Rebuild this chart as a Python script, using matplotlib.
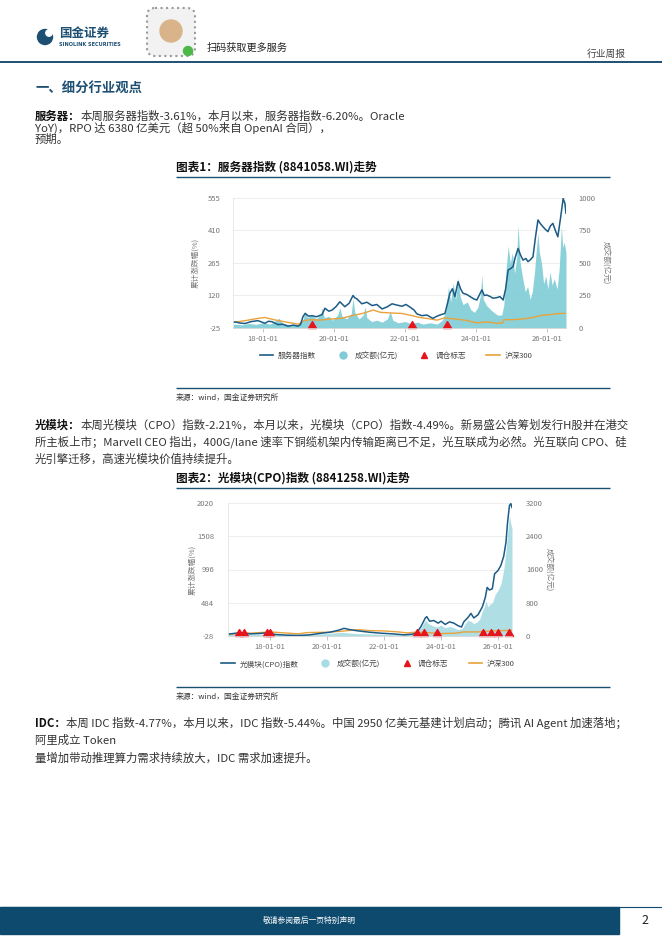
import matplotlib.pyplot as plt
from matplotlib.patches import Rectangle, Circle, FancyBboxPatch
from matplotlib.lines import Line2D
from matplotlib.path import Path

plt.rcParams['font.family'] = ['Noto Sans CJK SC', 'DejaVu Sans']

# ---------------- data ----------------
# 图表1 服务器指数 (decimal year, 累计涨跌幅 %)
t1_idx = [2017.15, 2017.21, 2017.35, 2017.49, 2017.65, 2017.85, 2017.95, 2018.05, 2018.15, 2018.25,
          2018.42, 2018.55, 2018.70, 2018.85, 2018.98, 2019.05, 2019.12, 2019.18, 2019.28, 2019.38,
          2019.50, 2019.66, 2019.74, 2019.85, 2019.94, 2020.05, 2020.16, 2020.30, 2020.42, 2020.53,
          2020.58, 2020.64, 2020.78, 2020.92, 2021.07, 2021.20, 2021.35, 2021.50, 2021.63, 2021.75,
          2021.91, 2022.02, 2022.14, 2022.25, 2022.33, 2022.47, 2022.61, 2022.78, 2022.90, 2022.98,
          2023.12, 2023.20, 2023.26, 2023.33, 2023.40, 2023.49, 2023.56, 2023.63, 2023.73, 2023.83,
          2023.93, 2024.02, 2024.16, 2024.23, 2024.30, 2024.40, 2024.47, 2024.57, 2024.67, 2024.76,
          2024.83, 2024.90, 2024.97, 2025.04, 2025.10, 2025.18, 2025.25, 2025.32, 2025.40, 2025.46,
          2025.53, 2025.60, 2025.67, 2025.74, 2025.81, 2025.88, 2025.95, 2026.02, 2026.09, 2026.16,
          2026.23, 2026.30, 2026.38, 2026.45, 2026.50, 2026.53]
v1_idx = [0, 2, -3, -5, 3, 8, 2, -4, 5, 3,
          -10, -8, -17, -12, -17, -10, 25, 40, 28, 30,
          25, 35, 63, 50, 55, 70, 92, 70, 85, 120,
          110, 105, 83, 90, 75, 80, 60, 70, 83, 78,
          72, 80, 68, 55, 38, 30, 33, 18, 28, 33,
          40, 90, 130, 150, 115, 182, 150, 130, 125, 115,
          105, 100, 145, 120, 122, 115, 108, 110, 115, 100,
          150, 234, 240, 249, 290, 330, 300, 278, 285, 271,
          280, 293, 380, 457, 440, 427, 415, 405, 430, 442,
          410, 382, 470, 553, 530, 487]

t1_vol = [2017.15, 2017.40, 2017.60, 2017.80, 2018.00, 2018.20, 2018.45, 2018.55, 2018.80, 2019.00,
          2019.12, 2019.18, 2019.25, 2019.35, 2019.50, 2019.62, 2019.66, 2019.72, 2019.85, 2019.95,
          2020.10, 2020.16, 2020.22, 2020.35, 2020.48, 2020.53, 2020.58, 2020.70, 2020.82, 2020.87,
          2020.92, 2021.05, 2021.20, 2021.35, 2021.50, 2021.58, 2021.65, 2021.80, 2022.00, 2022.15,
          2022.35, 2022.50, 2022.70, 2022.90, 2023.05, 2023.15, 2023.22, 2023.28, 2023.35, 2023.42,
          2023.49, 2023.55, 2023.63, 2023.75, 2023.85, 2023.95, 2024.05, 2024.12, 2024.16, 2024.20,
          2024.30, 2024.45, 2024.60, 2024.72, 2024.78, 2024.84, 2024.90, 2024.96, 2025.02, 2025.08,
          2025.14, 2025.18, 2025.24, 2025.30, 2025.38, 2025.45, 2025.52, 2025.58, 2025.64, 2025.70,
          2025.74, 2025.78, 2025.84, 2025.90, 2025.96, 2026.02, 2026.08, 2026.14, 2026.20, 2026.28,
          2026.34, 2026.40, 2026.44, 2026.48, 2026.53]
v1_vol = [30, 25, 35, 28, 40, 30, 75, 35, 25, 30,
          60, 130, 80, 100, 70, 110, 155, 80, 90, 60,
          100, 155, 90, 70, 110, 230, 120, 70, 100, 165,
          80, 50, 60, 45, 70, 128, 60, 40, 50, 35,
          45, 30, 40, 30, 60, 140, 320, 200, 346, 220,
          385, 240, 180, 200, 140, 120, 160, 250, 410, 220,
          170, 130, 100, 100, 180, 440, 630, 500, 580, 420,
          540, 790, 500, 400, 280, 320, 220, 280, 420, 620,
          730, 580, 500, 340, 400, 300, 430, 330, 380, 300,
          460, 780, 620, 660, 580]

t1_hs = [2017.15, 2017.50, 2017.85, 2018.05, 2018.30, 2018.70, 2019.00, 2019.15, 2019.35, 2019.60,
         2019.90, 2020.20, 2020.50, 2020.80, 2021.10, 2021.30, 2021.60, 2021.90, 2022.20, 2022.40,
         2022.60, 2022.90, 2023.10, 2023.40, 2023.70, 2024.00, 2024.30, 2024.60, 2024.75, 2024.78,
         2025.00, 2025.30, 2025.60, 2025.85, 2026.10, 2026.35, 2026.53]
v1_hs = [0, 8, 18, 22, 12, 0, -8, 8, 12, 10,
         15, 18, 30, 40, 55, 45, 42, 40, 30, 22,
         18, 10, 20, 15, 10, -2, 2, -4, -2, 12,
         12, 15, 22, 32, 35, 40, 40]

t1_tri = [2019.38, 2022.19, 2023.18]

# 图表2 光模块(CPO)指数
t2_idx = [2016.53, 2016.80, 2017.00, 2017.30, 2017.60, 2017.90, 2018.20, 2018.60, 2019.00, 2019.40,
          2019.80, 2020.10, 2020.40, 2020.60, 2020.80, 2021.10, 2021.50, 2021.90, 2022.30, 2022.70,
          2023.00, 2023.15, 2023.30, 2023.45, 2023.50, 2023.60, 2023.75, 2023.90, 2024.00, 2024.15,
          2024.30, 2024.45, 2024.60, 2024.72, 2024.80, 2024.95, 2025.05, 2025.15, 2025.30, 2025.45,
          2025.55, 2025.62, 2025.70, 2025.80, 2025.88, 2026.00, 2026.10, 2026.20, 2026.28, 2026.33,
          2026.40, 2026.45, 2026.49]
v2_idx = [0, 15, 25, 5, 10, 20, -5, -15, -20, -10,
          15, 30, 60, 90, 70, 50, 30, 15, 5, -10,
          0, 20, 120, 250, 270, 200, 210, 170, 200, 150,
          190, 170, 130, 110, 190, 260, 320, 250, 300, 420,
          560, 720, 680, 700, 930, 980, 1060, 1200, 1420, 1700,
          1980, 2010, 1950]

t2_vol = [2016.53, 2017.00, 2017.50, 2018.00, 2018.50, 2019.00, 2019.50, 2020.00, 2020.50, 2021.00,
          2021.50, 2022.00, 2022.50, 2023.00, 2023.15, 2023.30, 2023.45, 2023.55, 2023.70, 2023.85,
          2024.00, 2024.15, 2024.30, 2024.45, 2024.60, 2024.75, 2024.85, 2024.95, 2025.05, 2025.15,
          2025.25, 2025.35, 2025.45, 2025.52, 2025.58, 2025.64, 2025.70, 2025.80, 2025.90, 2026.00,
          2026.10, 2026.20, 2026.27, 2026.34, 2026.40, 2026.45, 2026.49]
v2_vol = [40, 60, 40, 50, 30, 25, 40, 60, 90, 60,
          50, 40, 30, 40, 80, 200, 380, 300, 250, 220,
          260, 200, 230, 200, 150, 180, 300, 380, 350, 300,
          330, 400, 600, 700, 850, 700, 750, 800, 1000, 1100,
          1250, 1600, 2000, 2500, 2900, 2700, 2600]

t2_hs = [2016.53, 2017.00, 2017.50, 2018.00, 2018.50, 2019.00, 2019.30, 2020.00, 2020.50, 2021.10,
         2021.50, 2022.00, 2022.50, 2022.80, 2023.10, 2023.50, 2024.00, 2024.50, 2024.80, 2025.30,
         2025.80, 2026.49]
v2_hs = [0, 10, 20, 35, 20, 5, 25, 30, 45, 70,
         55, 50, 35, 20, 30, 25, 10, 15, 35, 35,
         50, 60]

t2_tri = [2016.91, 2017.09, 2017.89, 2018.00, 2023.16, 2023.40, 2023.86,
          2025.47, 2025.75, 2026.00, 2026.39]

x_ticks = [2018, 2020, 2022, 2024, 2026]
x_labels = ['18-01-01', '20-01-01', '22-01-01', '24-01-01', '26-01-01']

legend1 = ['服务器指数', '成交额(亿元)', '调仓标志', '沪深300']
legend2 = ['光模块(CPO)指数', '成交额(亿元)', '调仓标志', '沪深300']

# ---------------- style ----------------
BLUE = '#1D4F73'
IDX = '#1C5B86'
ORANGE = '#E9A23B'
RED = '#E8141B'
GRAY = '#777777'
TXT = '#333333'

W, H = 662, 936
fig = plt.figure(figsize=(6.62, 9.36), dpi=100)
bg = fig.add_axes([0, 0, 1, 1])
bg.set_xlim(0, W)
bg.set_ylim(H, 0)
bg.axis('off')
renderer = fig.canvas.get_renderer()


def hline(y, x0, x1, lw=1.0, color=BLUE):
    bg.plot([x0, x1], [y, y], color=color, lw=lw, solid_capstyle='butt')


def para_line(y, text, label=None, x=35, size=8.2):
    if label:
        t = bg.text(x, y, label, fontsize=size, fontweight='bold', color='#111111', va='center')
        x = t.get_window_extent(renderer).x1
    bg.text(x, y, text, fontsize=size, color=TXT, va='center')


# header
bg.add_patch(Circle((45, 37), 7.5, color=BLUE))
bg.add_patch(Circle((49, 33), 3.2, color='white'))
bg.text(59, 33, '国金证券', fontsize=9, fontweight='bold', color=BLUE, va='center')
bg.text(59, 45, 'SINOLINK SECURITIES', fontsize=3.6, fontweight='bold', color=BLUE,
        va='center', family='DejaVu Sans')
bg.add_patch(FancyBboxPatch((147, 8), 48, 48, boxstyle='round,pad=0,rounding_size=8',
                            fc='#F2F2F2', ec='#9A9A9A', lw=1.5, ls=':'))
bg.add_patch(Circle((171, 31), 11, color='#D9B48A'))
bg.add_patch(Circle((188, 51), 4.5, color='#4CB848'))
bg.text(207, 48, '扫码获取更多服务', fontsize=7.3, color='#222222', va='center')
bg.text(626, 54, '行业周报', fontsize=7, color='#444444', va='center', ha='right')
hline(62, 0, W, lw=1.4)

bg.text(35, 88, '一、细分行业观点', fontsize=9.6, fontweight='bold', color=BLUE, va='center')

para_line(116, '本周服务器指数-3.61%，本月以来，服务器指数-6.20%。Oracle', label='服务器：')
para_line(127.5, 'YoY)，RPO 达 6380 亿美元（超 50%来自 OpenAI 合同），')
para_line(139, '预期。')


def chart(title, ty, rect, t_idx, v_idx, t_vol, v_vol, t_hs, v_hs, t_tri,
          xlim, lticks, rticks, vol_color, names, leg_xy, ylab_l, ylab_r, ypad, src_y):
    bg.text(176, ty, title, fontsize=8.4, fontweight='bold', color='#111111', va='center',
            style='italic')
    hline(ty + 10, 176, 610)
    x0, y0, x1, y1 = rect
    ax = fig.add_axes([x0 / W, 1 - y1 / H, (x1 - x0) / W, (y1 - y0) / H])
    ax2 = ax.twinx()
    ax.set_zorder(ax2.get_zorder() + 1)
    ax.patch.set_visible(False)

    ax2.fill_between(t_vol, v_vol, 0, color=vol_color, lw=0, alpha=0.9)
    ax.plot(t_hs, v_hs, color=ORANGE, lw=1.0)
    ax.plot(t_idx, v_idx, color=IDX, lw=1.1)
    tri = Path([(-1, 0), (1, 0), (0, 1.7), (-1, 0)], closed=True)
    ax.plot(t_tri, [lticks[0]] * len(t_tri), ls='none', marker=tri, ms=10, color=RED,
            clip_on=False)

    ax.set_xlim(*xlim)
    ax.set_ylim(lticks[0], lticks[-1])
    ax.set_yticks(lticks)
    ax.set_yticklabels([str(v) for v in lticks])
    ax2.set_ylim(rticks[0], rticks[-1])
    ax2.set_yticks(rticks)
    ax2.set_yticklabels([str(v) for v in rticks])
    ax.set_xticks(x_ticks)
    ax.set_xticklabels(x_labels)
    ax2.grid(axis='y', color='#EBEBEB', lw=0.6)
    ax2.set_axisbelow(True)
    for a in (ax, ax2):
        for s in a.spines.values():
            s.set_visible(False)
        a.tick_params(axis='y', length=0, labelsize=5.5, labelcolor=GRAY, pad=ypad)
    ax.spines['left'].set_visible(True)
    ax.spines['left'].set_color('#E4E4E4')
    ax.spines['left'].set_linewidth(0.6)
    ax.spines['bottom'].set_visible(True)
    ax.spines['bottom'].set_color('#D8D8D8')
    ax.spines['bottom'].set_linewidth(0.6)
    ax.tick_params(axis='x', length=3, width=0.6, color='#BBBBBB', labelsize=5.5,
                   labelcolor=GRAY, pad=2)

    bg.text(ylab_l[0], ylab_l[1], '累计涨跌幅(%)', fontsize=5.5, color=GRAY, rotation=90,
            ha='center', va='center')
    bg.text(ylab_r[0], ylab_r[1], '成交额(亿元)', fontsize=5.5, color=GRAY, rotation=270,
            ha='center', va='center')

    handles = [Line2D([], [], color=IDX, lw=1.2),
               Line2D([], [], ls='none', marker='o', ms=5, color=vol_color),
               Line2D([], [], ls='none', marker='^', ms=5, color=RED),
               Line2D([], [], color=ORANGE, lw=1.2)]
    fig.legend(handles, names, loc='center', bbox_to_anchor=(leg_xy[0] / W, 1 - leg_xy[1] / H),
               ncol=4, frameon=False, fontsize=5.5, handlelength=1.8, handletextpad=0.6,
               columnspacing=2.6, labelcolor='#444444')

    hline(src_y - 10, 176, 610)
    bg.text(176, src_y, '来源：wind，国金证券研究所', fontsize=5.6, color='#333333', va='center')


chart('图表1：服务器指数 (8841058.WI)走势', 167, (233, 198, 566, 328),
      t1_idx, v1_idx, t1_vol, v1_vol, t1_hs, v1_hs, t1_tri,
      (2017.15, 2026.53), [-25, 120, 265, 410, 555], [0, 250, 500, 750, 1000],
      '#7FCCD6', legend1, (396, 356), (195, 263), (605, 263), 9, 398)

para_line(425, '本周光模块（CPO）指数-2.21%，本月以来，光模块（CPO）指数-4.49%。新易盛公告筹划发行H股并在港交',
          label='光模块：')
para_line(442, '所主板上市；Marvell CEO 指出，400G/lane 速率下铜缆机架内传输距离已不足，光互联成为必然。光互联向 CPO、硅')
para_line(459, '光引擎迁移，高速光模块价值持续提升。')

chart('图表2：光模块(CPO)指数 (8841258.WI)走势', 478, (228, 503, 512, 636),
      t2_idx, v2_idx, t2_vol, v2_vol, t2_hs, v2_hs, t2_tri,
      (2016.53, 2026.49), [-28, 484, 996, 1508, 2020], [0, 800, 1600, 2400, 3200],
      '#A6DCE3', legend2, (368, 664), (192, 570), (548, 570), 10, 697)

para_line(723, '本周 IDC 指数-4.77%，本月以来，IDC 指数-5.44%。中国 2950 亿美元基建计划启动；腾讯 AI Agent 加速落地；',
          label='IDC：')
para_line(740, '阿里成立 Token')
para_line(758, '量增加带动推理算力需求持续放大，IDC 需求加速提升。')

# footer
hline(907, 0, W, lw=0.8, color='#0E4A6E')
bg.add_patch(Rectangle((0, 907), 619, 27, color='#0E4A6E'))
bg.text(309, 920.5, '敬请参阅最后一页特别声明', fontsize=5.6, color='white', ha='center', va='center')
bg.text(645, 920.5, '2', fontsize=9, color='#222222', ha='center', va='center')

fig.savefig('out.png', dpi=100)
